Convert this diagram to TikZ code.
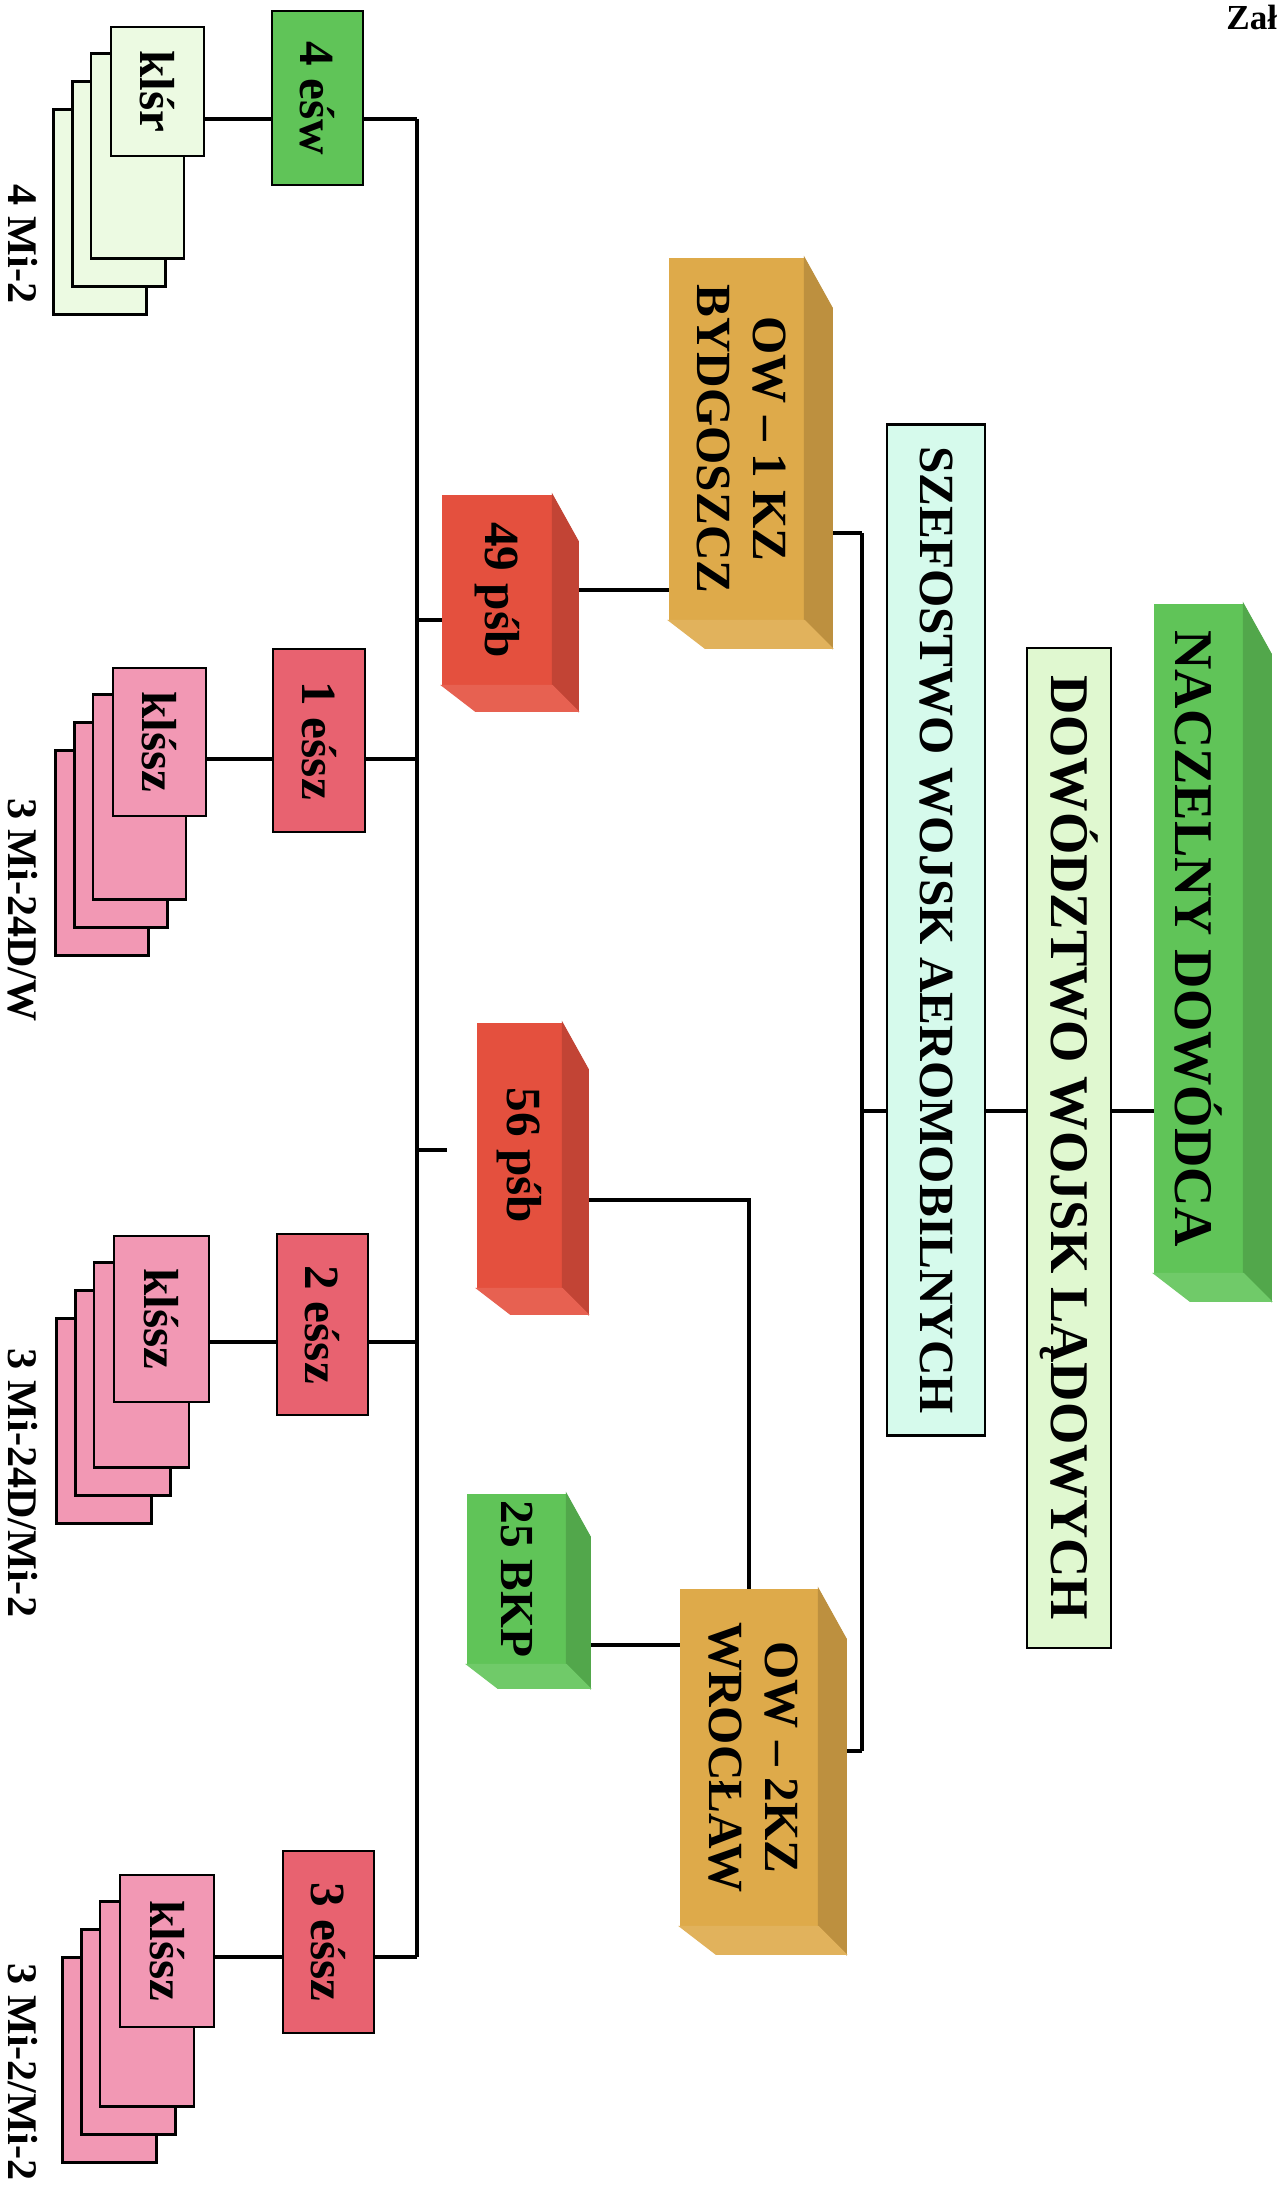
\documentclass[tikz,border=0pt]{standalone}
\usepackage{fontspec}
\setmainfont{Liberation Serif}
\usepackage{graphicx}
\usetikzlibrary{calc,backgrounds}

\definecolor{zielony}{RGB}{96,196,88}
\definecolor{jasnozielony}{RGB}{224,248,208}
\definecolor{blekit}{RGB}{214,250,236}
\definecolor{pomaranczowy}{RGB}{222,170,74}
\definecolor{czerwony}{RGB}{228,80,62}
\definecolor{malinowy}{RGB}{232,98,112}
\definecolor{rozowy}{RGB}{242,152,180}
\definecolor{seledyn}{RGB}{236,250,226}

\newcommand{\pion}[1]{\rotatebox{-90}{#1}}
% boki bryly: wezel, kolor, glebokosc
\newcommand{\bryla}[3]{%
  \filldraw[fill=#2!85!black, draw=#2!85!black, line width=0.6pt] (#1.north east) -- ++(#3,1.8*#3) -- ($(#1.south east)+(#3,#3)$) -- (#1.south east) -- cycle;
  \filldraw[fill=#2!90!white, draw=#2!90!white, line width=0.6pt] (#1.south west) -- (#1.south east) -- ($(#1.south east)+(#3,#3)$) -- ($(#1.south west)+(1.3*#3,#3)$) -- cycle;}

\begin{document}
\begin{tikzpicture}[x=0.02cm, y=-0.02cm,
  every node/.style={inner sep=0pt},
  rozm/.style 2 args={minimum width=#1*0.02cm, minimum height=#2*0.02cm},
  kostka/.style={fill=#1},
  plaski/.style={draw, line width=1.6pt, fill=#1},
  karta/.style={draw, line width=1.5pt, fill=#1},
  lacznik/.style={draw, line width=1.8pt},
  duzy/.style={font=\fontsize{31pt}{36pt}\selectfont\bfseries},
  sredni/.style={font=\fontsize{28pt}{32pt}\selectfont\bfseries},
  opis/.style={font=\fontsize{24pt}{28pt}\selectfont\bfseries}]
\useasboundingbox (0,0) rectangle (1281,2186);

% dowodztwo
\node[kostka=zielony, rozm={89}{669}, duzy] (nd) at (1198.5,938.5) {\pion{NACZELNY DOWÓDCA}};
\bryla{nd}{zielony}{28}
\node[plaski=jasnozielony, rozm={84}{1000}, duzy] (dwl) at (1069,1148) {\pion{DOWÓDZTWO WOJSK LĄDOWYCH}};
\node[plaski=blekit, rozm={98}{1011}, sredni] (szef) at (936,930) {\pion{SZEFOSTWO WOJSK AEROMOBILNYCH}};

% osrodki
\node[kostka=pomaranczowy, rozm={135}{362}, sredni] (ow1) at (736.5,439) {\pion{\begin{tabular}{@{}c@{}}OW – 1 KZ\\BYDGOSZCZ\end{tabular}}};
\bryla{ow1}{pomaranczowy}{28}
\node[kostka=pomaranczowy, rozm={138}{337}, sredni] (ow2) at (749,1757.5) {\pion{\begin{tabular}{@{}c@{}}OW – 2KZ\\WROCŁAW\end{tabular}}};
\bryla{ow2}{pomaranczowy}{28}

\node[kostka=czerwony, rozm={110}{190}, sredni] (psb49) at (497,590) {\pion{49 pśb}};
\bryla{psb49}{czerwony}{26}
\node[kostka=czerwony, rozm={85}{265}, sredni] (psb56) at (519.5,1155.5) {\pion{56 pśb}};
\bryla{psb56}{czerwony}{26}
\node[kostka=zielony, rozm={99}{170}, font=\fontsize{27pt}{31pt}\selectfont\bfseries] (bkp25) at (516.5,1579) {\pion{25 BKP}};
\bryla{bkp25}{zielony}{24}

% eskadry
\node[plaski=zielony, rozm={91}{174}, sredni] (esw4) at (317.5,98) {\pion{4 eśw}};
\node[plaski=malinowy, rozm={92}{183}, sredni] (essz1) at (319,740.5) {\pion{1 eśsz}};
\node[plaski=malinowy, rozm={91}{181}, sredni] (essz2) at (322.5,1324.5) {\pion{2 eśsz}};
\node[plaski=malinowy, rozm={91}{182}, sredni] (essz3) at (328.5,1942) {\pion{3 eśsz}};

% klucze
\node[karta=seledyn, rozm={93}{129}, sredni] (kl1) at (157.5,91.5) {\pion{klśr}};
\node[karta=rozowy, rozm={93}{148}, sredni] (kl2) at (159.5,742) {\pion{klśsz}};
\node[karta=rozowy, rozm={95}{166}, sredni] (kl3) at (161.5,1319) {\pion{klśsz}};
\node[karta=rozowy, rozm={94}{152}, sredni] (kl4) at (167,1951) {\pion{klśsz}};

\node[opis] (m1) at (23,244) {\pion{4 Mi-2}};
\node[opis] (m2) at (23,910) {\pion{3 Mi-24D/W}};
\node[opis] (m3) at (23,1483) {\pion{3 Mi-24D/Mi-2}};
\node[opis] (m4) at (23,2072) {\pion{3 Mi-2/Mi-2}};
\node[font=\fontsize{20pt}{24pt}\selectfont\bfseries, anchor=west] (zal) at (1226,17) {Zał};

\coordinate (p1) at (417,119);
\coordinate (p2) at (417,759);
\coordinate (p3) at (417,1342);
\coordinate (p4) at (417,1957);
\coordinate (p49) at (417,620);
\coordinate (p56) at (417,1150);
\coordinate (k56) at (447,1150);
\coordinate (q0) at (862,1111);
\coordinate (q1) at (862,533);
\coordinate (q2) at (862,1751);

\begin{pgfonlayer}{background}
\fill[white] (0,0) rectangle (1281,2186);
\foreach \i in {3,2,1} {
  \draw[karta=seledyn] ($(kl1.north west)+(-18.7*\i,28*\i)$) rectangle ++(93,205);
  \draw[karta=rozowy] ($(kl2.north west)+(-18.7*\i,28*\i)$) rectangle ++(93,205);
  \draw[karta=rozowy] ($(kl3.north west)+(-18.7*\i,28*\i)$) rectangle ++(95,205);
  \draw[karta=rozowy] ($(kl4.north west)+(-18.7*\i,28*\i)$) rectangle ++(94,205);
}
\begin{scope}[every path/.style={lacznik}]
\draw (p1) -- (p4);
\draw (q1) -- (q2);
\draw (nd.west |- q0) -- (dwl.east |- q0);
\draw (dwl.west |- q0) -- (szef.east |- q0);
\draw (szef.west |- q0) -- (q0);
\draw (ow1.east |- q1) -- (q1);
\draw (ow2.east |- q2) -- (q2);
\draw (psb49.east |- 0,590) -- (ow1.west |- 0,590);
\draw (psb49.west |- p49) -- (p49);
\draw (p56) -- (k56);
\draw (psb56.east |- 0,1200) -| (ow2.north);
\draw (bkp25.east |- 0,1645) -- (ow2.west |- 0,1645);
\draw (kl1.east |- p1) -- (esw4.west |- p1);
\draw (esw4.east |- p1) -- (p1);
\draw (kl2.east |- p2) -- (essz1.west |- p2);
\draw (essz1.east |- p2) -- (p2);
\draw (kl3.east |- p3) -- (essz2.west |- p3);
\draw (essz2.east |- p3) -- (p3);
\draw (kl4.east |- p4) -- (essz3.west |- p4);
\draw (essz3.east |- p4) -- (p4);
\end{scope}
\end{pgfonlayer}
\end{tikzpicture}
\end{document}
